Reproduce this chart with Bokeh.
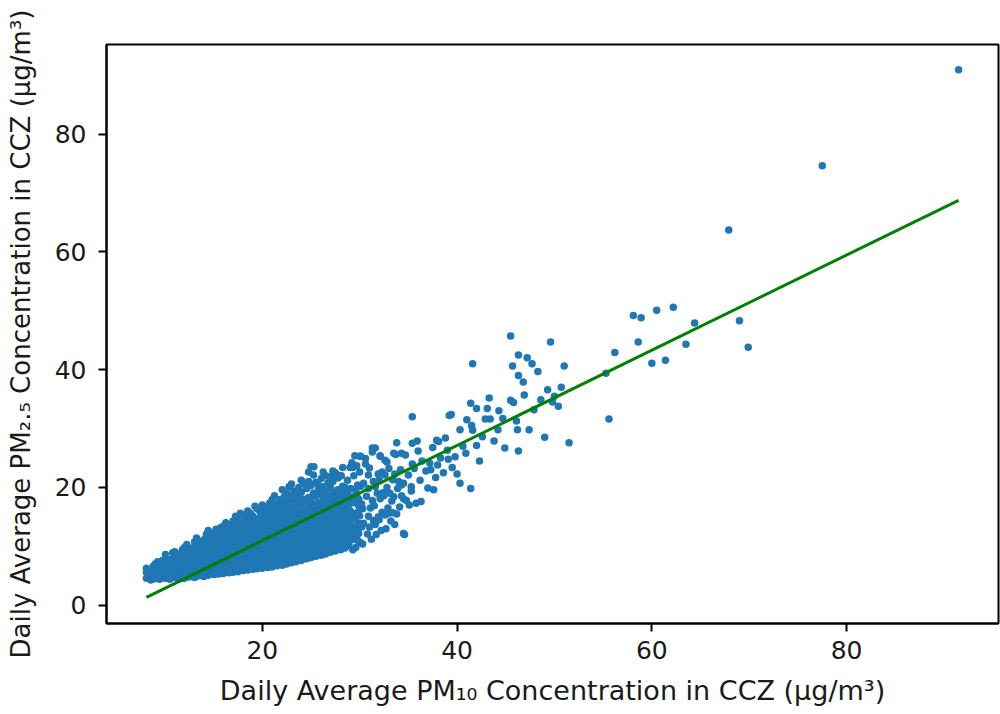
from bokeh.plotting import figure
from bokeh.models import FixedTicker, Range1d, ColumnDataSource
from bokeh.embed import file_html
from bokeh.resources import INLINE

# ---- data ----
# dense cluster: PM10 column positions and the PM2.5 values seen in each column
cluster_pm10 = [8.1, 8.55, 9.0, 9.45, 10.05, 10.5, 11.0, 11.55, 12.0, 12.45,
                13.05, 13.5, 14.0, 14.45, 15.05, 15.5, 16.0, 16.55, 17.0, 17.5,
                18.05, 18.5, 19.0, 19.45, 20.0, 20.55, 21.0, 21.5, 22.05, 22.5,
                23.0, 23.45, 24.0, 24.55, 25.0, 25.5, 26.05, 26.5, 27.0, 27.5,
                28.05, 28.5]
cluster_pm25 = [
    [4.6, 5.6, 6.3],
    [4.3, 5.1, 6.0],
    [4.5, 5.4, 6.2, 7.0],
    [4.4, 5.2, 6.1, 6.8],
    [4.6, 5.5, 6.4, 7.3, 8.6],
    [4.4, 5.1, 6.0, 6.9, 7.7],
    [4.7, 5.6, 6.5, 7.4, 8.4, 9.1],
    [4.5, 5.3, 6.2, 7.0, 7.9, 8.7],
    [4.6, 5.5, 6.3, 7.2, 8.1, 9.0, 9.8],
    [4.8, 5.7, 6.6, 7.5, 8.3, 9.2],
    [4.7, 5.5, 6.4, 7.3, 8.2, 9.1, 10.0, 10.8],
    [5.0, 5.9, 6.8, 7.7, 8.5, 9.4, 10.3],
    [4.9, 5.8, 6.6, 7.5, 8.4, 9.3, 10.2, 11.1],
    [5.1, 6.0, 6.9, 7.8, 8.7, 9.6, 10.5, 11.6, 12.7],
    [5.2, 6.1, 7.0, 7.9, 8.8, 9.7, 10.6, 11.5, 12.3],
    [5.3, 6.3, 7.2, 8.1, 9.0, 9.9, 10.8, 11.8],
    [5.4, 6.3, 7.2, 8.1, 9.0, 9.9, 10.8, 11.7, 12.6, 13.4],
    [5.5, 6.5, 7.4, 8.3, 9.2, 10.1, 11.0, 11.9, 12.8],
    [5.6, 6.6, 7.5, 8.4, 9.3, 10.2, 11.1, 12.0, 13.0, 14.3],
    [5.7, 6.7, 7.6, 8.6, 9.5, 10.4, 11.3, 12.3, 13.3, 14.7],
    [5.9, 6.8, 7.8, 8.7, 9.6, 10.6, 11.5, 12.5, 13.5, 15.3],
    [6.0, 7.0, 7.9, 8.9, 9.8, 10.8, 11.7, 12.7, 13.8, 14.8, 16.0],
    [6.1, 7.1, 8.0, 9.0, 10.0, 10.9, 11.9, 12.9, 14.0, 15.2],
    [6.2, 7.2, 8.2, 9.2, 10.2, 11.2, 12.2, 13.2, 14.3, 16.4],
    [6.3, 7.3, 8.3, 9.3, 10.3, 11.3, 12.3, 13.4, 14.6, 15.8, 17.0],
    [6.4, 7.4, 8.4, 9.5, 10.5, 11.5, 12.5, 13.6, 14.8, 16.3],
    [6.5, 7.5, 8.6, 9.6, 10.6, 11.7, 12.7, 13.8, 15.0, 16.5, 17.9],
    [6.7, 7.7, 8.7, 9.8, 10.8, 11.9, 12.9, 14.0, 15.3, 16.8],
    [6.8, 7.9, 8.9, 10.0, 11.0, 12.1, 13.2, 14.3, 15.6, 17.2, 19.6],
    [7.0, 8.1, 9.1, 10.2, 11.3, 12.4, 13.5, 14.7, 16.0, 17.6, 19.0],
    [7.2, 8.3, 9.3, 10.4, 11.5, 12.6, 13.8, 15.0, 16.4, 18.1, 20.6],
    [7.4, 8.5, 9.6, 10.7, 11.8, 12.9, 14.1, 15.4, 16.9, 18.7],
    [7.6, 8.7, 9.8, 10.9, 12.0, 13.2, 14.4, 15.7, 17.2, 19.2, 21.2],
    [7.9, 9.0, 10.1, 11.2, 12.3, 13.5, 14.7, 16.0, 17.6, 19.8],
    [8.1, 9.2, 10.3, 11.5, 12.6, 13.8, 15.0, 16.4, 18.0, 20.3, 23.5],
    [8.3, 9.5, 10.6, 11.8, 12.9, 14.1, 15.4, 16.8, 18.5, 20.9],
    [8.5, 9.7, 10.9, 12.0, 13.2, 14.4, 15.7, 17.1, 18.8, 21.5],
    [8.7, 9.9, 11.1, 12.3, 13.5, 14.8, 16.1, 17.6, 19.4, 22.0],
    [9.0, 10.2, 11.4, 12.6, 13.9, 15.2, 16.5, 18.0, 20.0, 21.8],
    [9.2, 10.5, 11.8, 13.0, 14.3, 15.6, 17.0, 18.6, 22.5],
    [9.4, 10.8, 12.1, 13.4, 14.7, 16.0, 17.5, 19.2, 22.0],
    [9.7, 11.0, 12.4, 13.7, 15.1, 16.5, 18.0, 20.0],
]

# in-between columns of the dense cluster
fill_pm10 = [8.3, 8.8, 9.25, 9.75, 10.25, 10.8, 11.25, 11.8, 12.25, 12.75,
             13.25, 13.75, 14.25, 14.75, 15.25, 15.75, 16.25, 16.75, 17.25, 17.75,
             18.25, 18.75, 19.25, 19.75, 20.25, 20.75, 21.25, 21.75, 22.25, 22.75,
             23.25, 23.75, 24.25, 24.75, 25.25, 25.75, 26.25, 26.75, 27.25, 27.75,
             28.25, 28.75]
fill_pm25 = [
    [4.9, 5.9],
    [4.7, 5.8, 6.6],
    [4.9, 5.8, 6.6, 7.4],
    [4.8, 5.7, 6.5, 7.6],
    [4.9, 5.9, 6.8, 7.8],
    [5.0, 5.9, 6.7, 7.9, 8.9],
    [4.6, 5.9, 6.8, 7.6, 8.3],
    [4.9, 5.8, 6.7, 7.6, 8.5, 9.4],
    [5.0, 5.9, 6.8, 7.7, 8.6, 10.3],
    [4.9, 5.9, 6.9, 7.9, 8.8, 9.6],
    [5.1, 6.0, 7.0, 7.8, 8.7, 9.7, 11.4],
    [5.2, 6.2, 7.1, 8.0, 9.0, 9.9, 10.8],
    [5.3, 6.3, 7.2, 8.1, 9.0, 10.0, 10.9, 12.0],
    [5.4, 6.4, 7.4, 8.3, 9.2, 10.1, 11.1, 12.2],
    [5.6, 6.6, 7.5, 8.4, 9.4, 10.3, 11.2, 12.9],
    [5.7, 6.7, 7.6, 8.6, 9.5, 10.4, 11.4, 12.4, 13.2],
    [5.8, 6.8, 7.7, 8.7, 9.6, 10.6, 11.5, 12.2, 14.0],
    [5.9, 6.9, 7.9, 8.8, 9.8, 10.7, 11.6, 12.5, 13.6],
    [5.9, 7.0, 8.0, 8.9, 9.9, 10.8, 11.8, 12.6, 13.7, 15.1],
    [6.2, 7.2, 8.1, 9.1, 10.0, 11.0, 11.9, 12.9, 14.0, 15.6],
    [6.3, 7.3, 8.3, 9.2, 10.2, 11.1, 12.1, 13.0, 14.2, 14.9],
    [6.4, 7.4, 8.4, 9.4, 10.3, 11.3, 12.3, 13.3, 14.4, 15.6],
    [6.5, 7.5, 8.5, 9.5, 10.5, 11.5, 12.5, 13.6, 14.7, 16.8],
    [6.6, 7.7, 8.7, 9.7, 10.7, 11.7, 12.7, 13.8, 14.9, 15.9],
    [6.7, 7.8, 8.8, 9.8, 10.8, 11.8, 12.9, 14.0, 15.2, 16.6],
    [6.9, 7.9, 8.9, 10.0, 11.0, 12.0, 13.1, 14.2, 15.5, 17.3],
    [7.0, 8.0, 9.1, 10.1, 11.2, 12.2, 13.3, 14.4, 15.7, 17.0, 18.6],
    [7.2, 8.2, 9.3, 10.3, 11.4, 12.4, 13.5, 14.7, 16.1, 17.9],
    [7.3, 8.4, 9.5, 10.5, 11.6, 12.7, 13.8, 15.0, 16.5, 18.4],
    [7.5, 8.6, 9.7, 10.7, 11.8, 12.9, 14.1, 15.3, 16.7, 18.5, 20.1],
    [7.7, 8.8, 9.9, 11.0, 12.1, 13.2, 14.4, 15.7, 17.3, 19.4],
    [7.9, 9.0, 10.1, 11.2, 12.3, 13.5, 14.7, 16.0, 17.6, 18.2, 20.0],
    [8.0, 9.2, 10.3, 11.4, 12.6, 13.8, 15.0, 16.3, 18.0, 20.7],
    [8.3, 9.4, 10.5, 11.7, 12.9, 14.0, 15.3, 16.8, 18.3, 21.0, 22.6],
    [8.5, 9.7, 10.8, 12.0, 13.2, 14.4, 15.7, 17.1, 19.0, 22.1],
    [8.8, 9.9, 11.1, 12.3, 13.4, 14.7, 16.0, 17.4, 19.5, 20.4],
    [9.0, 10.2, 11.4, 12.6, 13.8, 15.0, 16.4, 18.0, 20.1, 22.6],
    [9.3, 10.5, 11.7, 12.9, 14.1, 15.4, 16.8, 18.4, 20.8],
    [9.5, 10.8, 12.0, 13.3, 14.6, 15.9, 17.3, 19.0, 21.0, 22.8],
    [9.8, 11.1, 12.4, 13.6, 14.9, 16.3, 17.8, 19.6, 21.6],
    [10.0, 11.4, 12.7, 14.0, 15.4, 16.8, 18.4, 20.2, 23.4],
    [10.3, 11.7, 13.1, 14.4, 15.8, 17.3, 19.0, 21.2],
]

# looser part of the cloud, PM10 29-35 (PM10, PM2.5)
edge_pm10 = [28.9, 29.2, 28.8, 29.1, 29.3, 28.9, 29.2, 29.0,
             29.6, 29.4, 29.7, 29.5, 29.8, 29.4, 29.6, 29.5,
             30.1, 29.9, 30.2, 30.0, 30.3, 29.9, 30.1, 30.0, 30.1,
             29.3, 29.1, 29.4, 29.2, 29.0, 29.3, 29.1, 29.4, 29.2,
             29.8, 29.6, 29.9, 29.7, 29.9, 29.7, 29.8, 29.7,
             30.3, 30.8, 30.4, 30.9, 30.2, 30.7, 30.4, 30.9, 30.6,
             31.2, 31.0, 31.4, 31.1, 31.3, 30.9, 31.4, 31.0, 31.3,
             31.7, 31.6, 31.9, 31.5, 31.8, 31.6, 31.9, 31.6,
             32.2, 32.0, 32.3, 32.1, 32.4, 32.0, 32.3, 32.1,
             32.7, 32.6, 32.9, 32.5, 32.8, 32.6, 32.8,
             33.2, 33.0, 33.3, 33.1, 33.4, 33.0,
             33.6, 33.8, 33.5, 33.9, 33.6, 33.7,
             34.1, 34.3, 34.0, 34.2,
             34.6, 34.8, 34.5, 34.7,
             35.1, 35.3, 35.0, 35.4]
edge_pm25 = [10.1, 11.1, 12.9, 14.0, 15.6, 17.2, 18.4, 23.4,
             9.8, 11.8, 12.8, 14.7, 15.8, 17.4, 19.5, 25.4,
             10.6, 12.2, 13.3, 15.2, 16.4, 18.0, 20.2, 22.6, 25.3,
             9.4, 12.2, 13.2, 15.1, 16.1, 17.9, 19.8, 22.0, 24.2,
             11.0, 12.5, 13.9, 15.5, 16.9, 18.7, 20.4, 23.7,
             10.4, 12.1, 13.9, 15.1, 17.2, 18.5, 20.7, 22.1, 24.0,
             11.2, 13.3, 14.4, 16.5, 17.8, 19.8, 21.0, 23.3, 26.0,
             12.0, 13.7, 15.0, 16.9, 19.0, 20.1, 22.3, 26.7,
             12.7, 14.5, 15.8, 18.1, 19.1, 21.3, 22.6, 25.4,
             13.0, 15.3, 16.5, 18.6, 20.0, 22.1, 24.3,
             14.3, 15.6, 17.7, 19.0, 21.3, 23.2,
             13.7, 15.5, 18.4, 19.8, 22.3, 25.6,
             16.7, 18.6, 21.0, 23.0,
             12.0, 17.8, 20.7, 25.5,
             17.0, 19.4, 22.1, 24.0]

# sparse points (PM10, PM2.5)
sparse_pm10 = [45.5, 49.6, 41.6, 46.3, 47.2, 47.7, 45.7, 51.0, 48.3, 46.3,
               46.8, 50.7, 49.3, 46.9, 43.3, 45.5, 45.8, 49.8, 50.4, 41.4,
               42.0, 43.1, 39.4, 35.4, 39.2, 41.0, 42.9, 43.4, 44.7, 41.5,
               41.6, 40.3, 44.2, 46.2, 47.4, 46.1, 49.0, 51.5, 44.9, 46.3,
               42.0, 40.9, 38.8, 38.1, 37.9, 35.9, 35.4, 33.8, 31.3, 36.0,
               33.5, 34.3, 30.0, 30.6, 32.1, 32.6, 38.3, 39.1, 39.8, 36.4,
               37.2, 37.3, 39.5, 38.6, 37.8, 40.3, 41.4, 37.6, 37.0, 35.3,
               34.3, 36.3, 35.8, 34.5, 33.4, 34.5, 25.3, 28.1, 29.3,
               36.8, 38.0, 39.0, 37.5, 36.2, 35.6, 40.6, 42.6, 43.8, 44.3,
               47.9, 48.6, 50.0, 40.0, 42.3,
               91.5, 77.5, 67.9, 58.1, 58.9, 60.5, 62.2, 64.4, 69.0, 58.6,
               56.2, 63.5, 60.0, 61.4, 69.9, 55.6, 55.3]
sparse_pm25 = [45.7, 44.7, 41.0, 42.5, 42.0, 41.0, 40.6, 40.6, 39.7, 39.0,
               37.9, 37.0, 36.6, 35.7, 35.2, 34.8, 34.4, 34.5, 33.8, 34.3,
               33.4, 33.4, 32.4, 32.0, 32.2, 31.5, 31.6, 31.6, 31.7, 30.5,
               29.7, 29.8, 29.8, 29.8, 29.8, 31.3, 28.5, 27.6, 26.7, 26.2,
               27.1, 25.8, 28.4, 27.8, 28.0, 27.9, 27.5, 27.6, 26.7, 26.2,
               25.8, 25.8, 25.3, 24.9, 25.3, 24.6, 25.0, 24.8, 25.2, 24.5,
               24.1, 23.0, 23.4, 22.5, 21.7, 20.7, 19.8, 19.6, 19.9, 20.1,
               20.4, 17.6, 17.3, 18.1, 15.7, 12.2, 23.5, 22.0, 23.4,
               22.8, 23.8, 26.3, 26.8, 21.2, 23.2, 27.0, 28.6, 27.9, 33.0,
               33.2, 34.9, 35.5, 22.3, 24.5,
               90.9, 74.6, 63.7, 49.2, 48.8, 50.1, 50.6, 47.9, 48.3, 44.7,
               42.9, 44.3, 41.1, 41.6, 43.8, 31.6, 39.4]

# fitted line end points
fit_pm10 = [8.1, 91.5]
fit_pm25 = [1.35, 68.75]

x_ticks = [20, 40, 60, 80]
y_ticks = [0, 20, 40, 60, 80]

x_label = "Daily Average PM\u2081\u2080 Concentration in CCZ (\u03bcg/m\u00b3)"
y_label = "Daily Average PM\u2082.\u2085 Concentration in CCZ (\u03bcg/m\u00b3)"

# ---- build the table ----
xs, ys = [], []
for cols_x, cols_y in ((cluster_pm10, cluster_pm25), (fill_pm10, fill_pm25)):
    for cx, col in zip(cols_x, cols_y):
        for cy in col:
            xs.append(cx)
            ys.append(cy)
xs += edge_pm10 + sparse_pm10
ys += edge_pm25 + sparse_pm25
src = ColumnDataSource(data=dict(pm10=xs, pm25=ys))

p = figure(width=1000, height=714, output_backend="svg", toolbar_location=None,
           x_range=Range1d(4.0, 95.6), y_range=Range1d(-3.1, 95.2),
           min_border_left=106, min_border_right=2, min_border_top=44,
           min_border_bottom=91)
p.background_fill_color = "white"
p.border_fill_color = "white"
p.grid.visible = False
p.outline_line_color = "black"
p.outline_line_width = 2

p.scatter("pm10", "pm25", source=src, size=7.5, fill_color="#1f77b4",
          line_color=None)
p.line(fit_pm10, fit_pm25, line_color="green", line_width=3)

p.xaxis.ticker = FixedTicker(ticks=x_ticks)
p.yaxis.ticker = FixedTicker(ticks=y_ticks)
for ax in (p.xaxis[0], p.yaxis[0]):
    ax.axis_line_color = "black"
    ax.axis_line_width = 2
    ax.major_tick_line_color = "black"
    ax.major_tick_line_width = 2
    ax.major_tick_in = 0
    ax.major_tick_out = 8
    ax.minor_tick_line_color = None
    ax.major_label_text_font = "DejaVu Sans"
    ax.major_label_text_font_size = "25px"
    ax.major_label_text_color = "#1a1a1a"
    ax.axis_label_text_font = "DejaVu Sans"
    ax.axis_label_text_font_style = "normal"
    ax.axis_label_text_color = "#1a1a1a"

p.xaxis.axis_label_text_font_size = "27px"
p.yaxis.axis_label_text_font_size = "26px"
p.xaxis.axis_label = x_label
p.yaxis.axis_label = y_label
p.xaxis.major_label_standoff = 9
p.yaxis.major_label_standoff = 12
p.xaxis.axis_label_standoff = 13
p.yaxis.axis_label_standoff = 16

open("out.html", "w").write(file_html(p, INLINE))
